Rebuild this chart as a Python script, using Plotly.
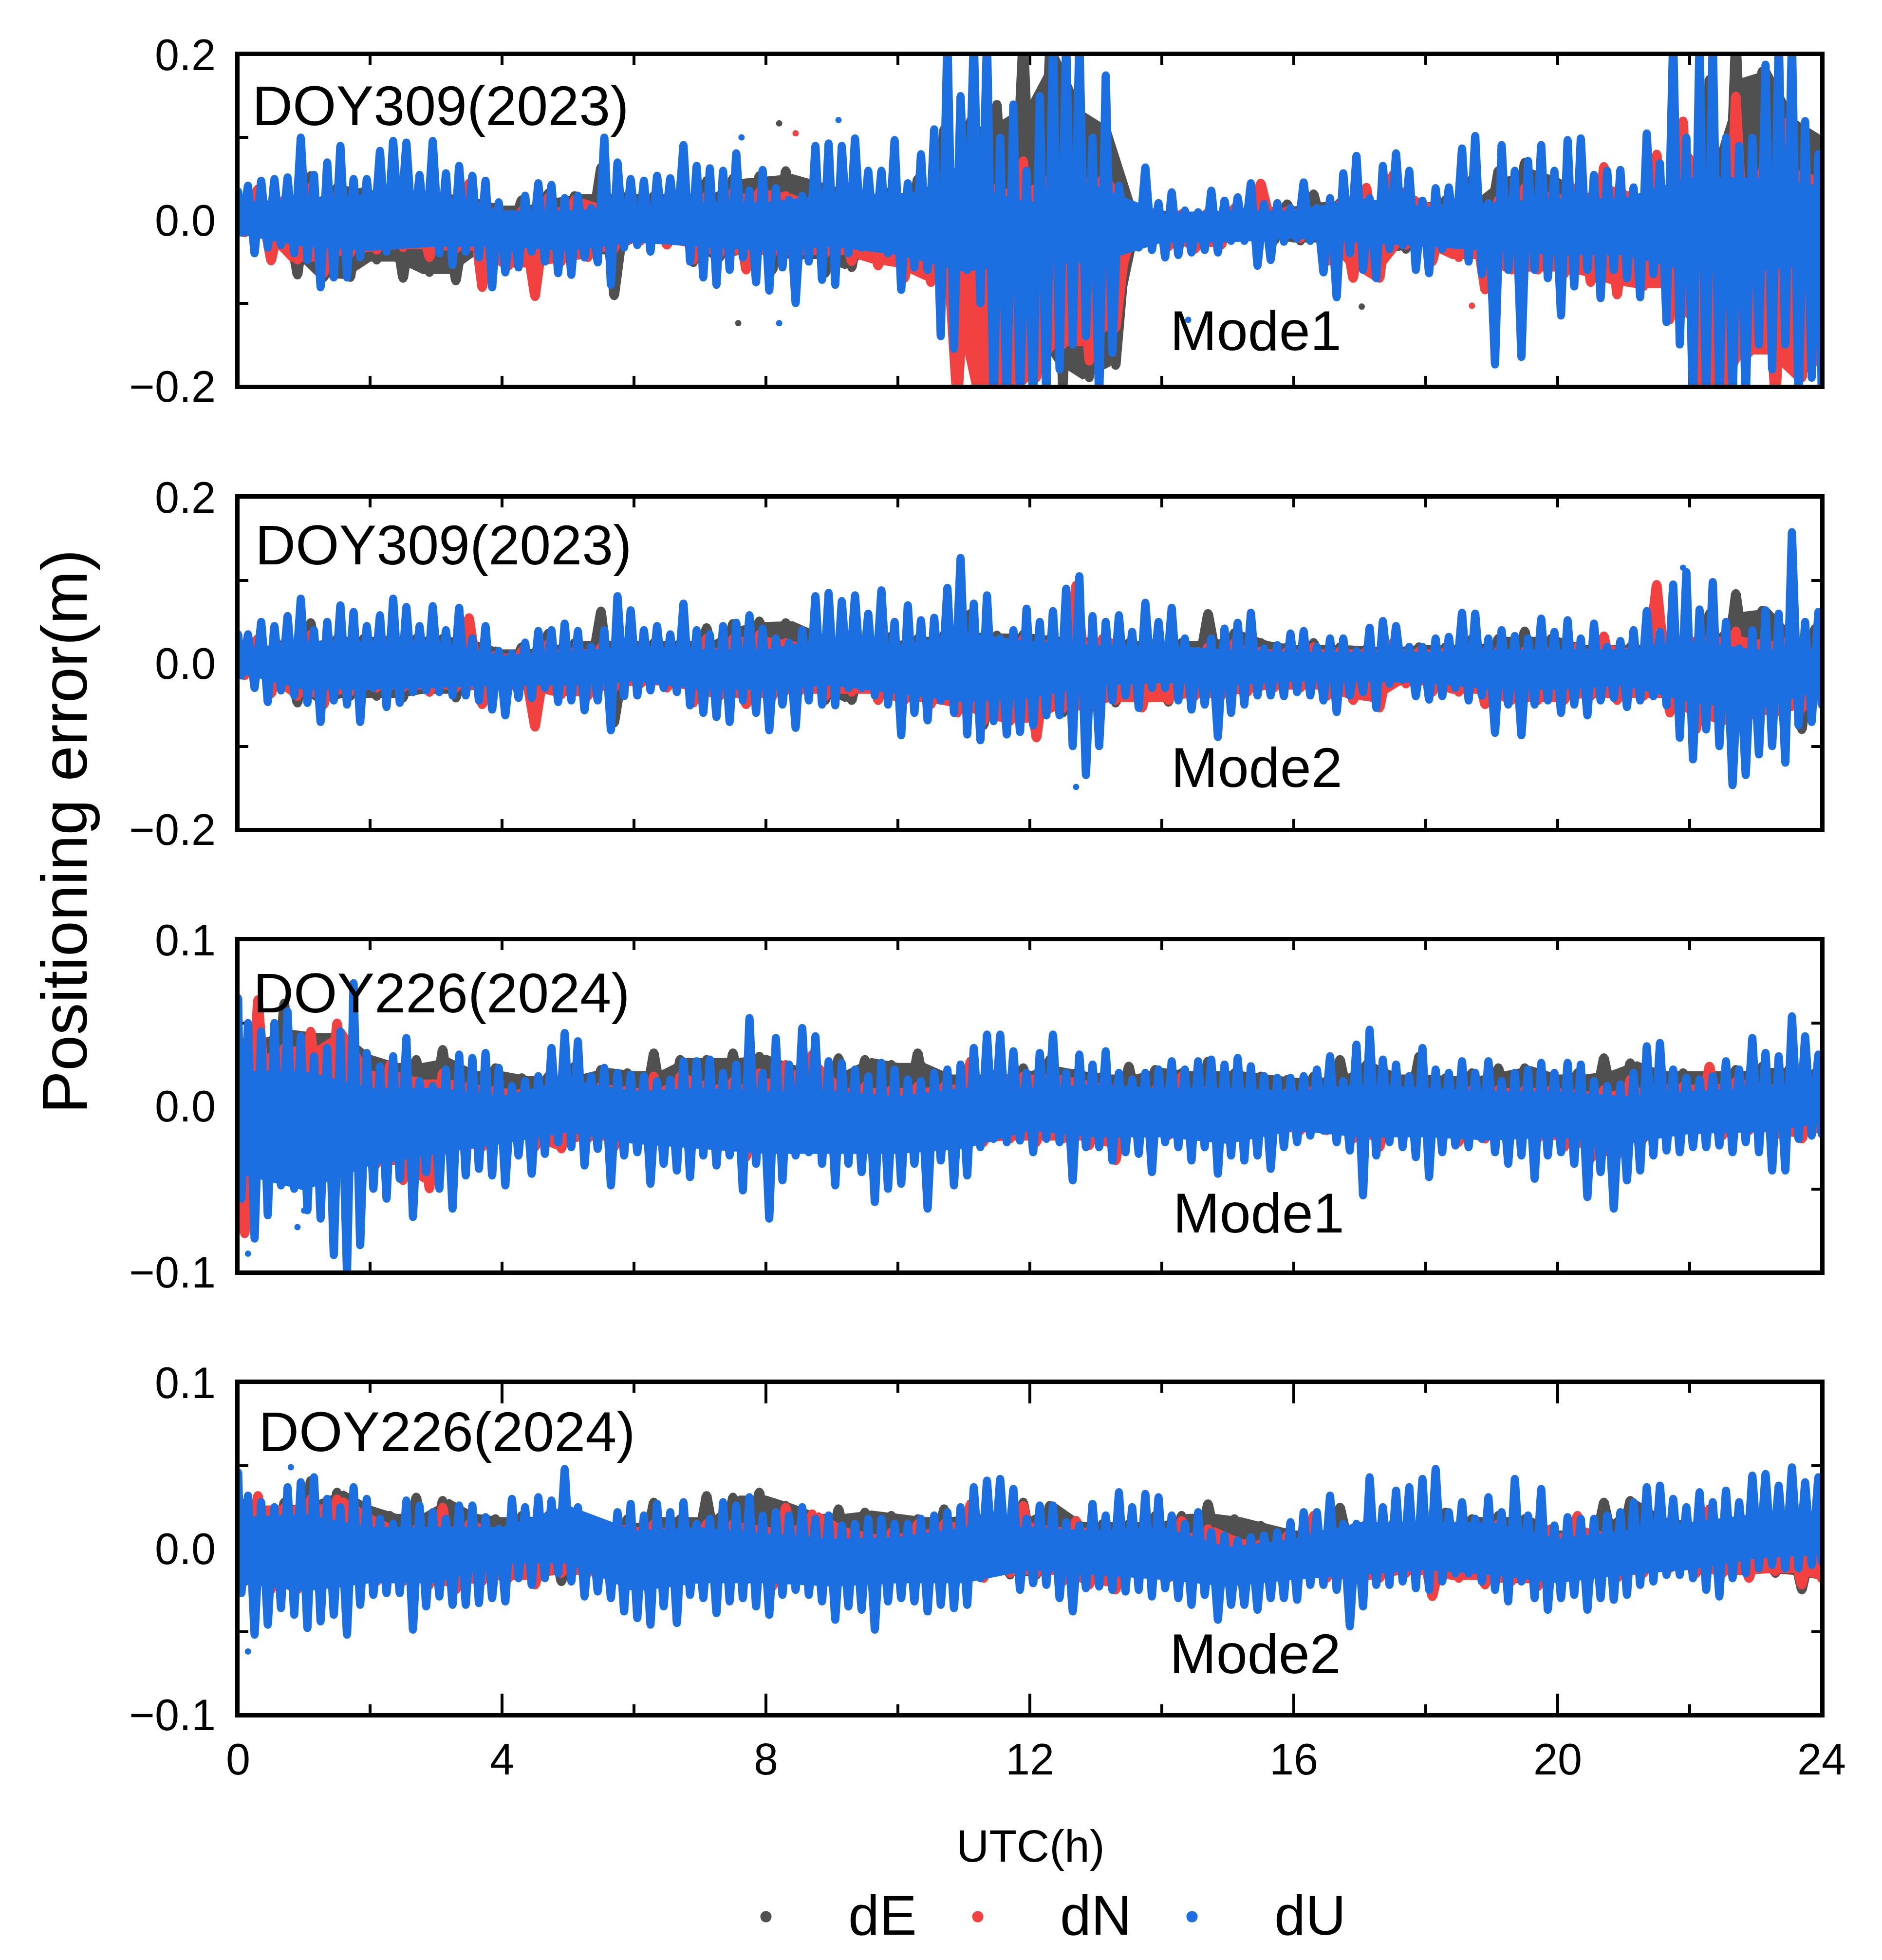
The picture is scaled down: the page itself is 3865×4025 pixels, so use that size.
import plotly.graph_objects as go

# All error values are in millimetres.
# dU columns are 0.2 h apart; dE and dN columns are 0.4 h apart; dU core columns are 1 h apart.
P1_DU_HI = [35,42,48,50,52,100,55,70,90,50, 50,84,96,94,55,96,57,66,54,48,
 22,8,30,45,43,27,30,15,100,70, 50,48,54,51,91,66,63,60,81,36,
 61,39,25,30,90,93,90,99,60,60, 97,45,80,110,220,150,220,220,100,140,
 60,150,220,220,220,100,175,42,15,64, 21,34,12,10,36,24,28,45,20,21,
 15,46,15,27,57,78,27,66,81,60, 24,39,40,87,102,21,91,60,72,91,
 60,97,99,55,60,61,40,105,69,220, 100,220,220,100,90,100,188,220,220,120,80]
P1_DU_LO = [-15,-40,-33,-30,-40,-48,-81,-69,-69,-45, -25,-38,-20,-25,-28,-40,-54,-38,-45,-81,
 -63,-57,-38,-50,-64,-66,-45,-51,-78,-33, -30,-38,-20,-15,-50,-69,-78,-60,-45,-75,
 -85,-57,-100,-50,-72,-78,-40,-33,-30,-40, -84,-57,-60,-140,-155,-60,-100,-220,-220,-220,
 -220,-220,-180,-150,-140,-220,-160,-15,-33,-36, -45,-42,-39,-36,-39,-25,-25,-55,-48,-26,
 -22,-25,-63,-93,-40,-60,-70,-35,-30,-60, -64,-35,-30,-50,-65,-174,-60,-165,-60,-70,
 -115,-80,-60,-94,-60,-70,-93,-65,-123,-150, -220,-220,-220,-220,-220,-150,-180,-150,-220,-190,-200]
P1_DE_HI = [20,25,25,54,40,35,30,30,30,25, 16,25,33,30,64,30,30,30,48,51,
 54,60,45,35,30,37,50,110,120,140, 220,200,130,110,10,10,8,10,12,15,
 20,32,22,25,20,22,25,50,60,70, 50,30,25,30,60,70,170,220,180,120,100]
P1_DE_LO = [-15,-35,-66,-69,-69,-48,-70,-63,-73,-40, -20,-30,-35,-40,-91,-25,-25,-51,-45,-40,
 -60,-45,-64,-57,-35,-50,-70,-220,-220,-120, -170,-200,-190,-175,-25,-32,-30,-20,-20,-25,
 -25,-30,-40,-35,-35,-25,-25,-35,-40,-40, -40,-30,-25,-30,-60,-200,-220,-150,-220,-190,-170]
P1_DN_HI = [20,38,25,40,30,15,30,20,20,45, 10,12,28,25,15,20,10,15,30,35,
 35,30,15,10,20,15,15,30,36,40, 72,50,60,50,5,10,8,10,15,45,
 12,10,20,40,55,20,15,20,25,40, 30,40,65,30,80,120,40,150,60,120,50]
P1_DN_LO = [-15,-49,-48,-64,-40,-36,-33,-45,-35,-81, -55,-92,-50,-45,-35,-25,-30,-48,-40,-60,
 -40,-40,-40,-50,-55,-70,-75,-220,-220,-220, -190,-150,-170,-130,-15,-32,-35,-30,-20,-20,
 -22,-50,-70,-70,-30,-50,-45,-84,-60,-60, -65,-75,-90,-80,-120,-220,-220,-160,-220,-190,-170]
P1_CORE_HI = [20,25,30,30,10,10,15,20,20,30,30,40,20,40,8,10,10,25,15,20,25,25,50,50,40]
P1_CORE_LO = [-15,-30,-35,-30,-30,-35,-25,-30,-35,-30,-40,-60,-50,-50,-25,-25,-20,-25,-30,-35,-40,-40,-60,-60,-50]

P2_DU_HI = [35,35,50,45,57,78,40,50,70,62, 45,58,78,68,45,69,40,67,30,45,
 15,12,25,39,40,48,39,20,40,81, 64,40,45,35,72,40,35,45,49,58,
 42,30,25,40,81,85,75,82,60,88, 50,70,52,55,91,127,72,82,30,40,
 66,50,63,90,105,57,50,58,38,73, 50,67,30,15,30,42,49,61,18,22,
 36,39,20,30,30,15,43,51,45,20, 20,30,32,61,60,30,40,33,30,54,
 38,52,30,48,20,27,40,63,38,95, 110,65,98,50,18,40,64,60,158,50,62]
P2_DU_LO = [-15,-30,-47,-33,-39,-48,-71,-45,-50,-71, -30,-53,-48,-35,-33,-35,-39,-39,-45,-56,
 -63,-42,-42,-30,-47,-45,-57,-45,-81,-40, -39,-33,-30,-35,-51,-60,-65,-71,-45,-60,
 -81,-50,-78,-45,-50,-51,-30,-30,-39,-50, -87,-60,-69,-45,-60,-86,-93,-70,-86,-83,
 -75,-63,-63,-100,-135,-100,-45,-39,-54,-30, -30,-45,-56,-50,-89,-60,-50,-39,-39,-40,
 -35,-39,-45,-59,-39,-35,-54,-25,-20,-40, -44,-40,-30,-45,-39,-84,-50,-87,-50,-45,
 -60,-50,-63,-45,-42,-53,-45,-40,-51,-90, -116,-80,-100,-147,-135,-110,-100,-120,-75,-71,-50]
P2_DE_HI = [15,25,25,49,30,30,30,30,30,25, 15,20,36,25,63,25,25,25,43,48,
 51,49,35,25,25,33,30,35,60,34, 35,30,30,25,25,25,25,60,37,25,
 20,25,20,18,20,20,20,30,30,39, 30,20,20,20,25,30,60,84,64,30,42]
P2_DE_LO = [-10,-25,-48,-45,-40,-40,-42,-35,-42,-30, -20,-25,-30,-30,-72,-20,-25,-35,-30,-30,
 -40,-30,-45,-45,-25,-40,-40,-55,-75,-50, -55,-60,-40,-48,-30,-47,-30,-25,-25,-25,
 -25,-30,-30,-25,-20,-25,-25,-30,-30,-35, -30,-30,-30,-35,-45,-50,-45,-30,-50,-80,-40]
P2_DN_HI = [10,30,22,35,25,15,25,20,15,55, 10,15,24,15,20,20,10,15,30,30,
 35,25,20,15,20,15,20,20,25,20, 30,25,94,30,10,10,15,20,25,15,
 15,20,15,15,25,15,15,20,15,15, 15,20,33,15,95,30,30,39,25,30,10]
P2_DN_LO = [-15,-37,-40,-50,-35,-30,-30,-35,-30,-50, -30,-77,-38,-40,-30,-25,-30,-48,-40,-50,
 -40,-35,-40,-35,-45,-45,-50,-60,-70,-70, -90,-55,-55,-45,-54,-45,-40,-40,-35,-30,
 -30,-40,-45,-54,-25,-35,-35,-50,-45,-45, -45,-40,-45,-40,-60,-80,-70,-65,-60,-55,-40]
P2_CORE_HI = [15,25,25,25,8,12,20,15,15,30,20,35,25,20,20,15,12,12,12,15,15,15,25,15,15]
P2_CORE_LO = [-10,-30,-30,-28,-25,-25,-20,-30,-30,-25,-35,-45,-40,-25,-22,-25,-20,-20,-22,-30,-30,-25,-45,-55,-30]

P3_DU_HI = [65,50,45,50,57,42,30,35,45,74, 32,24,30,41,15,12,22,31,29,32,
 23,12,15,18,35,44,39,18,23,20, 19,18,15,16,27,27,28,20,25,53,
 20,41,25,47,42,27,26,22,18,26, 22,16,15,20,22,25,35,43,43,33,
 20,32,43,20,31,25,33,20,16,20, 22,27,22,27,28,25,29,24,18,17,
 17,18,22,30,15,37,46,28,25,18, 35,22,20,27,20,27,15,20,22,26,
 20,26,25,15,12,13,20,36,38,22, 17,16,18,27,22,41,32,30,54,42,31]
P3_DU_LO = [-56,-80,-66,-48,-50,-63,-68,-90,-100,-84, -50,-56,-44,-67,-40,-50,-62,-42,-38,-42,
 -48,-30,-41,-29,-22,-25,-36,-26,-48,-30, -28,-47,-35,-39,-43,-30,-36,-30,-51,-35,
 -68,-45,-30,-28,-35,-48,-35,-40,-58,-50, -47,-35,-62,-33,-48,-42,-25,-20,-22,-21,
 -28,-20,-22,-45,-25,-25,-33,-28,-29,-40, -22,-25,-33,-25,-41,-30,-33,-30,-38,-25,
 -22,-18,-15,-22,-27,-54,-30,-22,-25,-31, -43,-28,-24,-25,-20,-28,-35,-30,-44,-30,
 -28,-35,-55,-40,-62,-45,-39,-30,-27,-28, -25,-25,-24,-28,-22,-28,-39,-39,-20,-18,-17]
P3_DE_HI = [40,45,62,43,44,30,25,28,34,20, 23,17,18,24,22,20,32,28,28,32,
 30,24,20,29,28,25,32,18,18,20, 23,28,20,18,24,22,20,27,20,18,
 16,18,28,25,18,30,17,20,23,23, 18,20,29,26,20,20,20,22,24,22,20]
P3_DE_LO = [-30,-25,-25,-25,-25,-20,-20,-18,-18,-15, -15,-15,-17,-15,-15,-15,-15,-12,-12,-10,
 -12,-10,-10,-10,-10,-10,-8,-12,-12,-12, -12,-12,-12,-12,-12,-12,-12,-12,-10,-10,
 -10,-10,-10,-12,-12,-10,-10,-10,-10,-10, -10,-10,-8,-8,-8,-8,-10,-10,-15,-15,-12]
P3_DN_HI = [30,64,35,45,50,20,25,15,20,12, 10,8,8,15,12,10,18,18,12,15,
 20,25,31,10,12,10,12,12,27,18, 18,18,15,12,10,10,18,10,8,8,
 8,10,5,3,8,10,8,10,10,10, 10,8,10,16,12,12,24,15,12,10,5]
P3_DN_LO = [-77,-35,-30,-30,-32,-35,-45,-50,-25,-25, -18,-25,-26,-20,-25,-20,-22,-20,-18,-31,
 -18,-18,-15,-18,-15,-15,-18,-22,-22,-20, -22,-20,-24,-33,-15,-18,-18,-18,-15,-15,
 -15,-15,-20,-25,-15,-15,-22,-20,-18,-20, -25,-32,-30,-20,-15,-15,-18,-15,-18,-20,-15]
P3_CORE_HI = [20,20,10,10,5,15,8,10,8,8,5,10,10,12,10,10,8,12,10,8,8,5,8,10,15]
P3_CORE_LO = [-40,-50,-35,-28,-22,-15,-22,-25,-28,-28,-28,-25,-14,-18,-18,-22,-14,-18,-18,-20,-18,-22,-16,-15,-10]

P4_DU_HI = [46,32,28,25,37,40,43,30,25,37, 30,18,15,29,26,22,18,26,26,19,
 12,30,25,31,29,48,25,17,14,22, 27,20,27,22,28,15,18,28,26,31,
 20,22,20,25,18,20,14,15,18,18, 15,15,18,20,22,25,37,41,42,36,
 18,26,26,16,14,27,20,34,25,33, 31,20,15,22,10,8,5,7,8,10,
 16,22,22,32,15,15,43,25,35,37, 42,48,22,28,18,31,22,42,20,36,
 14,19,18,18,20,22,28,37,38,30, 25,34,28,35,28,44,45,38,49,40,43]
P4_DU_LO = [-27,-52,-46,-36,-40,-48,-44,-40,-52,-34, -28,-27,-27,-49,-35,-29,-34,-34,-33,-30,
 -32,-18,-22,-18,-15,-20,-29,-26,-30,-38, -42,-46,-35,-45,-28,-30,-39,-32,-30,-35,
 -40,-28,-25,-28,-32,-43,-35,-37,-49,-32, -30,-32,-38,-34,-36,-34,-18,-12,-12,-25,
 -21,-22,-30,-38,-24,-23,-25,-26,-25,-29, -24,-30,-34,-28,-43,-34,-34,-37,-30,-30,
 -31,-22,-22,-25,-47,-35,-22,-22,-20,-24, -25,-20,-15,-15,-20,-25,-32,-20,-30,-37,
 -30,-28,-37,-30,-31,-28,-22,-20,-16,-16, -18,-25,-29,-18,-15,-12,-10,-12,-12,-10,-8]
P4_DE_HI = [30,25,28,41,34,25,20,31,29,20, 18,20,20,15,14,18,28,18,32,31,
 34,26,20,24,22,20,18,24,20,18, 28,26,15,15,15,20,20,27,18,14,
 10,12,25,15,15,15,22,18,20,18, 10,15,28,29,18,15,15,12,10,10,10]
P4_DE_LO = [-20,-20,-20,-18,-18,-15,-15,-15,-15,-12, -12,-14,-20,-15,-12,-12,-12,-12,-12,-12,
 -12,-12,-10,-10,-10,-10,-10,-12,-14,-16, -16,-12,-12,-12,-12,-12,-10,-10,-10,-10,
 -8,-8,-10,-12,-15,-15,-12,-12,-12,-10, -10,-10,-8,-10,-12,-15,-12,-14,-15,-25,-18]
P4_DN_HI = [25,32,25,30,30,20,12,12,25,15, 10,5,5,21,15,12,15,10,15,15,
 12,25,21,12,8,10,15,15,27,15, 26,12,17,8,8,8,17,12,5,3,
 8,20,8,5,5,8,5,8,15,8, 12,20,8,5,10,10,24,8,10,8,12]
P4_DN_LO = [-15,-25,-25,-22,-20,-20,-20,-22,-25,-20, -18,-22,-15,-15,-18,-15,-15,-18,-18,-19,
 -23,-18,-15,-12,-15,-15,-15,-18,-18,-15, -15,-20,-22,-25,-15,-18,-15,-15,-15,-15,
 -15,-18,-20,-18,-15,-29,-18,-22,-20,-23, -15,-15,-18,-15,-12,-15,-15,-18,-14,-22,-18]
P4_CORE_HI = [18,20,12,12,12,25,10,12,8,5,6,12,12,10,12,0,5,15,15,15,5,10,15,20,22]
P4_CORE_LO = [-20,-25,-20,-20,-8,-8,-25,-20,-20,-22,-20,-20,-12,-15,-18,-22,-18,-15,-12,-15,-20,-15,-12,-5,-3]

# Isolated points (hour, mm)
P1_DE_OUT = [(7.58,-124),(8.2,117),(17.03,-104)]
P1_DN_OUT = [(8.45,105),(18.7,-103)]
P1_DU_OUT = [(7.63,100),(8.2,-124),(9.1,121),(14.4,-120)]
P2_DU_OUT = [(12.7,-149),(21.9,115)]
P3_DU_OUT = [(0.15,-89),(0.9,-73),(1.0,-63)]
P4_DU_OUT = [(0.15,-62),(0.8,49)]

PANEL_LABELS = ["DOY309(2023)", "DOY309(2023)", "DOY226(2024)", "DOY226(2024)"]
MODE_LABELS = ["Mode1", "Mode2", "Mode1", "Mode2"]
SERIES_NAMES = ["dE", "dN", "dU"]
X_TICKS = [0, 4, 8, 12, 16, 20, 24]
Y_LIMITS = [0.2, 0.2, 0.1, 0.1]

COLORS = {"dE": "#505050", "dN": "#F24141", "dU": "#1B6FE0"}
FONT = "Liberation Sans"
W, H = 3865, 4025
PAGE_MARGIN = 8
LEFT, RIGHT = 489, 3741
PANEL_PX = [(112, 793), (1021, 1703), (1930, 2612), (2839, 3521)]
DOY_POS = [(516, 217), (522, 1119), (518, 2039), (529, 2940)]
MODE_POS = [(2401, 679), (2403, 1576), (2407, 2491), (2400, 3396)]
STROKE = {"dE": 20, "dN": 20, "dU": 17}
DOT = {"dE": 18, "dN": 18, "dU": 16}

PANELS = [
    {"dE": (P1_DE_HI, P1_DE_LO, P1_DE_OUT), "dN": (P1_DN_HI, P1_DN_LO, P1_DN_OUT), "dU": (P1_DU_HI, P1_DU_LO, P1_DU_OUT), "core": (P1_CORE_HI, P1_CORE_LO)},
    {"dE": (P2_DE_HI, P2_DE_LO, []), "dN": (P2_DN_HI, P2_DN_LO, []), "dU": (P2_DU_HI, P2_DU_LO, P2_DU_OUT), "core": (P2_CORE_HI, P2_CORE_LO)},
    {"dE": (P3_DE_HI, P3_DE_LO, []), "dN": (P3_DN_HI, P3_DN_LO, []), "dU": (P3_DU_HI, P3_DU_LO, P3_DU_OUT), "core": (P3_CORE_HI, P3_CORE_LO)},
    {"dE": (P4_DE_HI, P4_DE_LO, []), "dN": (P4_DN_HI, P4_DN_LO, []), "dU": (P4_DU_HI, P4_DU_LO, P4_DU_OUT), "core": (P4_CORE_HI, P4_CORE_LO)},
]


def sweep(hi, lo):
    """Walk between each column's upper and lower reading."""
    step = 24 / (len(hi) - 1)
    xs, ys = [], []
    for i, (a, b) in enumerate(zip(hi, lo)):
        t = i * step
        xs += [max(t - step / 4, 0), min(t + step / 4, 24)]
        ys += [a / 1000, b / 1000]
    return xs, ys


def outline(hi, lo):
    """Closed outline: along the upper readings and back along the lower ones."""
    step = 24 / (len(hi) - 1)
    ts = [i * step for i in range(len(hi))]
    return ts + ts[::-1], [v / 1000 for v in hi] + [v / 1000 for v in lo[::-1]]


def valleys(hi, lo):
    """Solid body between neighbouring peaks: the lower of each adjacent pair of readings."""
    v_hi = [min(hi[max(i - 1, 0)], hi[i]) for i in range(len(hi))]
    v_lo = [max(lo[max(i - 1, 0)], lo[i]) for i in range(len(lo))]
    return v_hi, v_lo


def px(x):
    return (x - PAGE_MARGIN) / W


def py(y):
    return 1 - (y - PAGE_MARGIN) / H


fig = go.Figure()
annotations, shapes = [], []
layout = {}
for p, panel in enumerate(PANELS):
    xa, ya = ("x", "y") if p == 0 else (f"x{p+1}", f"y{p+1}")
    for name in SERIES_NAMES:
        hi, lo, out = panel[name]
        body_hi, body_lo = panel["core"] if name == "dU" else valleys(hi, lo)
        xs, ys = outline(body_hi, body_lo)
        fig.add_trace(go.Scatter(x=xs, y=ys, mode="lines", fill="toself", fillcolor=COLORS[name], name=name,
                                 xaxis=xa, yaxis=ya, showlegend=False, line=dict(color=COLORS[name], width=6)))
        xs, ys = sweep(hi, lo)
        fig.add_trace(go.Scatter(x=xs, y=ys, mode="lines+markers", name=name, xaxis=xa, yaxis=ya, showlegend=False,
                                 line=dict(color=COLORS[name], width=STROKE[name]),
                                 marker=dict(color=COLORS[name], size=DOT[name], line=dict(width=0))))
        if out:
            fig.add_trace(go.Scatter(
                x=[o[0] for o in out], y=[o[1] / 1000 for o in out], mode="markers",
                name=name, xaxis=xa, yaxis=ya, showlegend=False,
                marker=dict(color=COLORS[name], size=13, line=dict(width=0))))
    top, bottom = PANEL_PX[p]
    lim = Y_LIMITS[p]
    layout[f"xaxis{'' if p == 0 else p+1}"] = dict(
        domain=[px(LEFT), px(RIGHT)], anchor=ya, range=[0, 24], tickmode="array", tickvals=X_TICKS,
        ticktext=[str(v) for v in X_TICKS] if p == 3 else [""] * len(X_TICKS),
        showticklabels=p == 3, ticks="inside", ticklen=43, tickwidth=6, tickcolor="black",
        showline=True, linecolor="black", linewidth=6, mirror="allticks", showgrid=False, zeroline=False,
        layer="below traces", ticklabelstandoff=9,
        minor=dict(dtick=2, tick0=0, ticks="inside", ticklen=21, tickwidth=6, tickcolor="black", showgrid=False),
        tickfont=dict(family=FONT, size=90, color="black"))
    layout[f"yaxis{'' if p == 0 else p+1}"] = dict(
        domain=[py(bottom), py(top)], anchor=xa, range=[-lim, lim], tick0=0, dtick=lim, tickformat=".1f",
        ticks="inside", ticklen=43, tickwidth=6, tickcolor="black",
        showline=True, linecolor="black", linewidth=6, mirror="allticks", showgrid=False, zeroline=False,
        layer="below traces", ticklabelstandoff=22,
        minor=dict(dtick=lim / 2, tick0=0, ticks="inside", ticklen=21, tickwidth=6, tickcolor="black", showgrid=False),
        tickfont=dict(family=FONT, size=90, color="black"))
    shapes.append(dict(type="rect", xref=f"{xa} domain", yref=f"{ya} domain", x0=0, x1=1, y0=0, y1=1,
                       line=dict(color="black", width=6), layer="above"))
    for text, (ax, ay) in ((PANEL_LABELS[p], DOY_POS[p]), (MODE_LABELS[p], MODE_POS[p])):
        annotations.append(dict(text=text, xref="paper", yref="paper", x=px(ax), y=py(ay), xanchor="left",
                                yanchor="middle", showarrow=False, font=dict(family=FONT, size=115, color="black")))

annotations.append(dict(text="Positioning error(m)", xref="paper", yref="paper", x=px(132), y=py(1708),
                        textangle=-90, xanchor="center", yanchor="middle", showarrow=False,
                        font=dict(family=FONT, size=132, color="black")))
annotations.append(dict(text="UTC(h)", xref="paper", yref="paper", x=px(2116), y=py(3791),
                        xanchor="center", yanchor="middle", showarrow=False,
                        font=dict(family=FONT, size=93, color="black")))
KEY_X = [1573, 2008, 2448]
KEY_TEXT_X = [1740, 2175, 2615]
for name, kx, tx in zip(SERIES_NAMES, KEY_X, KEY_TEXT_X):
    shapes.append(dict(type="circle", xref="paper", yref="paper", x0=px(kx - 11.5), x1=px(kx + 11.5),
                       y0=py(3936 + 11.5), y1=py(3936 - 11.5), fillcolor=COLORS[name], line=dict(width=0)))
    annotations.append(dict(text=name, xref="paper", yref="paper", x=px(tx), y=py(3933), xanchor="left",
                            yanchor="middle", showarrow=False, font=dict(family=FONT, size=115, color="black")))

fig.update_layout(width=W, height=H, autosize=False,
                  margin=dict(l=0, r=0, t=0, b=0, pad=0, autoexpand=False), paper_bgcolor="white",
                  plot_bgcolor="white", showlegend=False, annotations=annotations, shapes=shapes,
                  font=dict(family=FONT, color="black"), **layout)
fig.write_html("out.html")
